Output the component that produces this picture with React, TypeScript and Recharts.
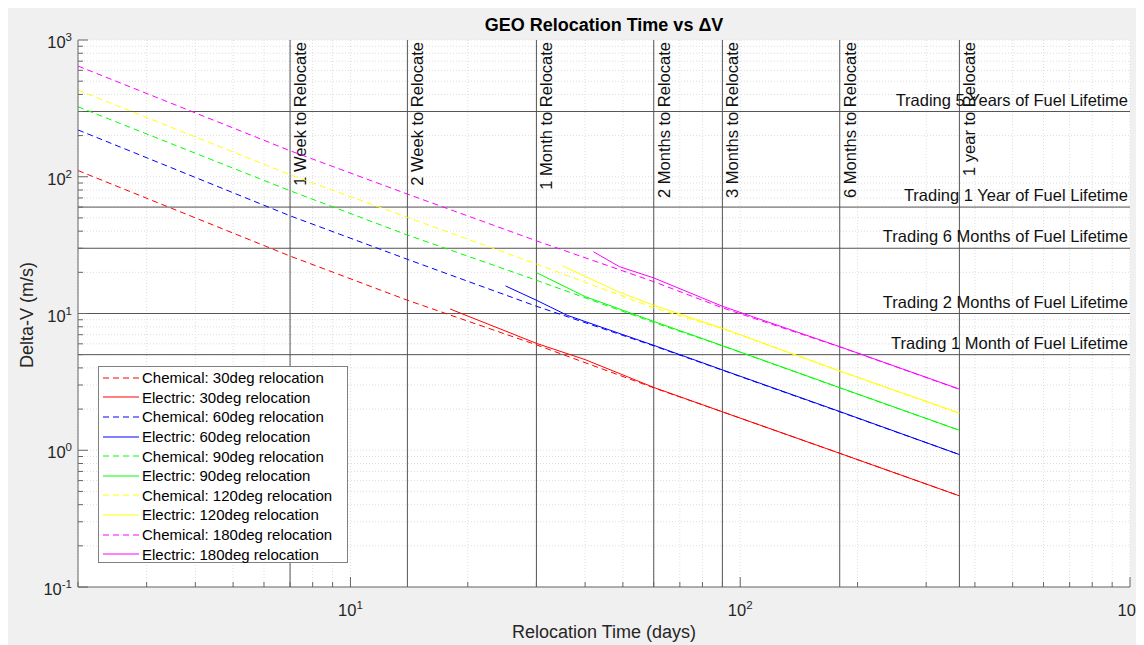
import { LineChart, Line, XAxis, YAxis, CartesianGrid, ReferenceLine, Legend } from 'recharts';

const FONT = '"Liberation Sans", Arial, Helvetica, sans-serif';

const chemDays = [2, 7, 14, 30, 60, 90, 180, 365];
const chem30 = [111, 26.3, 12.5, 5.9, 2.86, 1.91, 0.95, 0.464];
const chem60 = [220, 51.8, 24.9, 11.3, 5.8, 3.85, 1.91, 0.93];
const chem90 = [325, 79, 37.5, 17.5, 8.6, 5.8, 2.86, 1.4];
const chem120 = [430, 103.5, 50.5, 23.0, 11.0, 7.75, 3.79, 1.86];
const chem180 = [645, 155, 74.7, 34.0, 17.1, 11.0, 5.7, 2.79];

// electric curves start later (thrust limited)
const elec30Days = [18, 30, 40, 60, 90, 180, 365];
const elec30 = [10.8, 6.05, 4.6, 2.88, 1.91, 0.95, 0.464];
const elec60Days = [25, 30, 36, 60, 90, 180, 365];
const elec60 = [15.9, 12.5, 9.7, 5.85, 3.87, 1.92, 0.93];
const elec90Days = [30, 40, 60, 90, 180, 365];
const elec90 = [19.9, 13.3, 8.75, 5.82, 2.87, 1.4];
const elec120Days = [35, 49, 60, 90, 180, 365];
const elec120 = [22.3, 14.3, 11.5, 7.8, 3.8, 1.87];
const elec180Days = [42, 49, 60, 90, 180, 365];
const elec180 = [28.3, 22.0, 18.2, 11.3, 5.72, 2.8];

const seriesNames = [
    'Chemical: 30deg relocation',
    'Electric: 30deg relocation',
    'Chemical: 60deg relocation',
    'Electric: 60deg relocation',
    'Chemical: 90deg relocation',
    'Electric: 90deg relocation',
    'Chemical: 120deg relocation',
    'Electric: 120deg relocation',
    'Chemical: 180deg relocation',
    'Electric: 180deg relocation',
];
const seriesDays = [chemDays, elec30Days, chemDays, elec60Days, chemDays, elec90Days, chemDays, elec120Days, chemDays, elec180Days];
const seriesValues = [chem30, elec30, chem60, elec60, chem90, elec90, chem120, elec120, chem180, elec180];

const COLORS = ['#ff0000', '#ff0000', '#0000ff', '#0000ff', '#00ff00', '#00ff00', '#ffff00', '#ffff00', '#ff00ff', '#ff00ff'];

const relocateDays = [7, 14, 30, 60, 90, 180, 365];
const relocateLabels = [
    '1 Week to Relocate',
    '2 Week to Relocate',
    '1 Month to Relocate',
    '2 Months to Relocate',
    '3 Months to Relocate',
    '6 Months to Relocate',
    '1 year to Relocate',
];

const fuelDeltaV = [300, 60, 30, 10, 5];
const fuelLabels = [
    'Trading 5 Years of Fuel Lifetime',
    'Trading 1 Year of Fuel Lifetime',
    'Trading 6 Months of Fuel Lifetime',
    'Trading 2 Months of Fuel Lifetime',
    'Trading 1 Month of Fuel Lifetime',
];

const xTicks = [2, 3, 4, 5, 6, 7, 8, 9, 10, 20, 30, 40, 50, 60, 70, 80, 90, 100, 200, 300, 400, 500, 600, 700, 800, 900, 1000];
const xMajor = [10, 100, 1000];
const xMajorExp = ['1', '2', '3'];
const yTicks = [
    0.1, 0.2, 0.3, 0.4, 0.5, 0.6, 0.7, 0.8, 0.9,
    1, 2, 3, 4, 5, 6, 7, 8, 9,
    10, 20, 30, 40, 50, 60, 70, 80, 90,
    100, 200, 300, 400, 500, 600, 700, 800, 900, 1000,
];
const yMajor = [0.1, 1, 10, 100, 1000];
const yMajorExp = ['-1', '0', '1', '2', '3'];

const AXIS = '#666666';

function XTick({ x, y, payload }: any) {
    const idx = xMajor.indexOf(payload.value);
    const major = idx >= 0;
    return (
        <g>
            <line x1={x} x2={x} y1={y} y2={y - (major ? 10 : 5)} stroke={AXIS} />
            {major && (
                <text x={x} y={y + 29} textAnchor="middle" fontSize={16.5} fontFamily={FONT} fill="#262626">
                    10<tspan dy={-7} fontSize={11.5}>{xMajorExp[idx]}</tspan>
                </text>
            )}
        </g>
    );
}

function YTick({ x, y, payload }: any) {
    const idx = yMajor.indexOf(payload.value);
    const major = idx >= 0;
    return (
        <g>
            <line x1={x} x2={x + (major ? 10 : 5)} y1={y} y2={y} stroke={AXIS} />
            {major && (
                <text x={x - 6} y={y + 8} textAnchor="end" fontSize={16.5} fontFamily={FONT} fill="#262626">
                    10<tspan dy={-7} fontSize={11.5}>{yMajorExp[idx]}</tspan>
                </text>
            )}
        </g>
    );
}

const vLabel = (text: string) => (props: any) => {
    const { x, y } = props.viewBox;
    const px = x + 16;
    const py = y + 2;
    return (
        <text x={px} y={py} transform={`rotate(-90 ${px} ${py})`} textAnchor="end" fontSize={16.5} fontFamily={FONT} fill="#111">
            {text}
        </text>
    );
};

const hLabel = (text: string) => (props: any) => {
    const { x, y, width } = props.viewBox;
    return (
        <text x={x + width - 2} y={y - 6} textAnchor="end" fontSize={16.5} fontFamily={FONT} fill="#111">
            {text}
        </text>
    );
};

function LegendBox() {
    return (
        <div
            style={{
                width: 250,
                height: 197,
                boxSizing: 'border-box',
                background: '#fff',
                border: '1px solid #808080',
                fontFamily: FONT,
                fontSize: 15,
                color: '#000',
                paddingTop: 1,
            }}
        >
            {seriesNames.map((name, i) => (
                <div key={name} style={{ display: 'flex', alignItems: 'center', height: 19.6 }}>
                    <svg width={43} height={10} style={{ flex: 'none' }}>
                        <line
                            x1={4}
                            x2={40}
                            y1={5}
                            y2={5}
                            stroke={COLORS[i]}
                            strokeDasharray={i % 2 === 0 ? '6 4' : undefined}
                        />
                    </svg>
                    <span style={{ whiteSpace: 'nowrap' }}>{name}</span>
                </div>
            ))}
        </div>
    );
}

export default function App() {
    const lines = seriesNames.map((name, i) => ({
        name,
        points: seriesDays[i].map((t, j) => ({ t, v: seriesValues[i][j] })),
    }));

    return (
        <div style={{ width: 1136, height: 637, background: '#f0f0f0', position: 'relative', fontFamily: FONT }}>
            <style>{'body { overflow: hidden; }'}</style>
            <div
                style={{
                    position: 'absolute',
                    left: 70,
                    width: 1052,
                    top: 7,
                    lineHeight: '20px',
                    textAlign: 'center',
                    fontWeight: 'bold',
                    fontSize: 18,
                    color: '#000',
                }}
            >
                GEO Relocation Time vs ΔV
            </div>
            <div
                style={{
                    position: 'absolute',
                    left: 70,
                    width: 1052,
                    top: 614,
                    lineHeight: '20px',
                    textAlign: 'center',
                    fontSize: 18,
                    color: '#262626',
                }}
            >
                Relocation Time (days)
            </div>
            <div
                style={{
                    position: 'absolute',
                    left: 19,
                    top: 307,
                    transform: 'translate(-50%, -50%) rotate(-90deg)',
                    whiteSpace: 'nowrap',
                    lineHeight: '20px',
                    fontSize: 18,
                    color: '#262626',
                }}
            >
                Delta-V (m/s)
            </div>

            <LineChart width={1136} height={637} margin={{ top: 32, right: 14, left: 10, bottom: 28 }} style={{ position: 'absolute', left: 0, top: 0 }}>
                <CartesianGrid fill="#fff" stroke="#dedede" strokeDasharray="1 2" />
                <XAxis
                    type="number"
                    dataKey="t"
                    scale="log"
                    domain={[2, 1000]}
                    allowDataOverflow
                    ticks={xTicks}
                    interval={0}
                    height={30}
                    tickSize={0}
                    tickMargin={0}
                    tick={<XTick />}
                    axisLine={{ stroke: AXIS }}
                    tickLine={false}
                />
                <YAxis
                    type="number"
                    dataKey="v"
                    scale="log"
                    domain={[0.1, 1000]}
                    allowDataOverflow
                    ticks={yTicks}
                    interval={0}
                    width={60}
                    tickSize={0}
                    tickMargin={0}
                    tick={<YTick />}
                    axisLine={{ stroke: AXIS }}
                    tickLine={false}
                />

                {relocateDays.map((d, i) => (
                    <ReferenceLine key={`v${d}`} x={d} stroke="#555" label={vLabel(relocateLabels[i])} />
                ))}
                {fuelDeltaV.map((dv, i) => (
                    <ReferenceLine key={`h${dv}`} y={dv} stroke="#555" label={hLabel(fuelLabels[i])} />
                ))}

                {lines.map((s, i) => (
                    <Line
                        key={s.name}
                        name={s.name}
                        data={s.points}
                        dataKey="v"
                        type="linear"
                        stroke={COLORS[i]}
                        strokeWidth={1}
                        strokeDasharray={i % 2 === 0 ? '6 4' : undefined}
                        dot={false}
                        activeDot={false}
                        isAnimationActive={false}
                    />
                ))}

                <Legend
                    layout="vertical"
                    align="center"
                    verticalAlign="middle"
                    wrapperStyle={{ left: 90, top: 358, width: 250 }}
                    content={() => <LegendBox />}
                />
            </LineChart>
        </div>
    );
}
